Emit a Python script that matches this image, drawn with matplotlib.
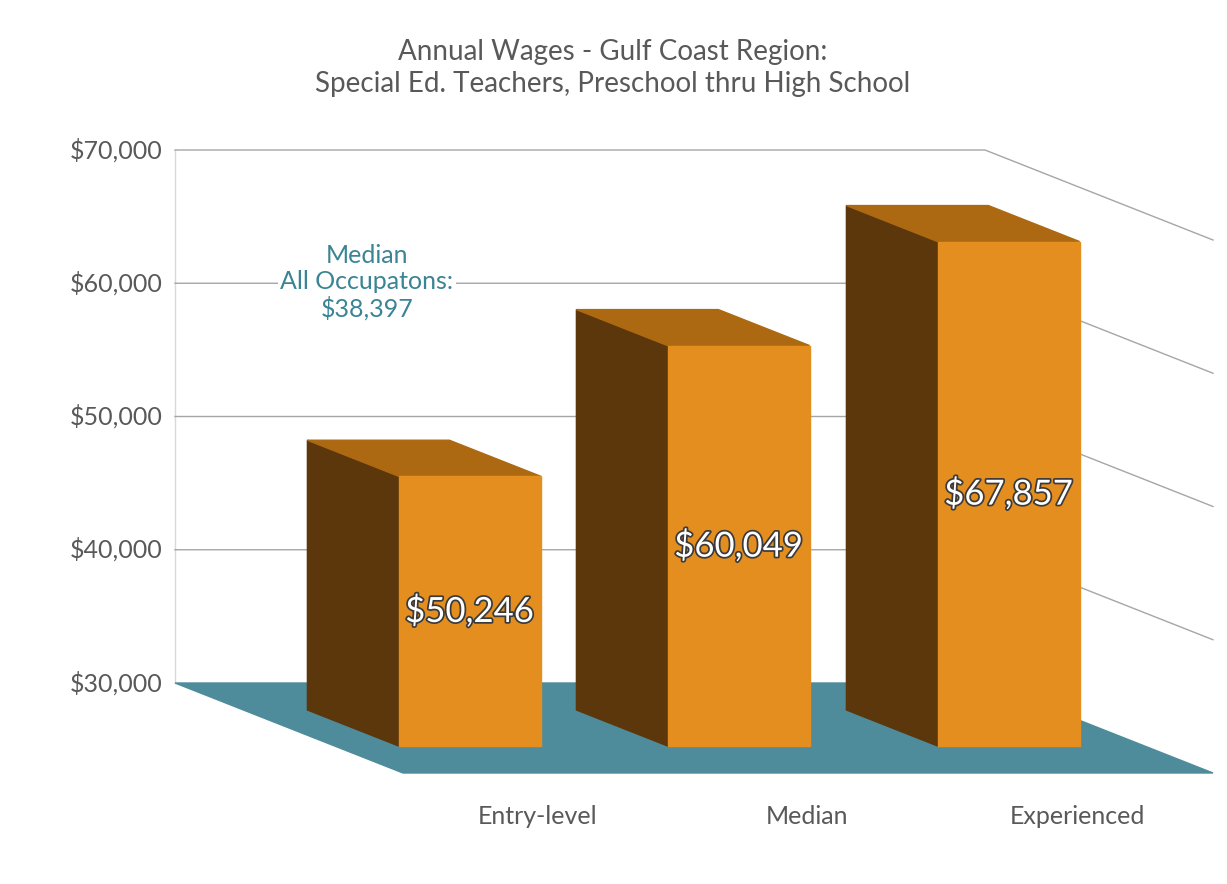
import matplotlib.pyplot as plt
import matplotlib.patheffects as pe
from matplotlib.patches import Polygon

categories = ['Entry-level', 'Median', 'Experienced']
wages = [50246, 60049, 67857]
value_labels = ['$50,246', '$60,049', '$67,857']
ticks = [30000, 40000, 50000, 60000, 70000]
tick_labels = ['$30,000', '$40,000', '$50,000', '$60,000', '$70,000']
title = 'Annual Wages - Gulf Coast Region:\nSpecial Ed. Teachers, Preschool thru High School'
note = 'Median\nAll Occupatons:\n$38,397'

# pseudo-3d projection (canvas pixels)
X0, X1, Y0 = 175, 985, 683
PX = 533 / 40000
DX, DY = 228, 90
BAR_X = [239, 508, 778]
BAR_W = 142
D_BACK, D_FRONT = 0.3, 0.7


def proj(x, v, d):
    return (x + d * DX, Y0 - (v - ticks[0]) * PX + d * DY)


fig = plt.figure(figsize=(12.27, 8.84), dpi=100)
ax = fig.add_axes([0, 0, 1, 1])
ax.set_xlim(0, 1227)
ax.set_ylim(884, 0)
ax.axis('off')
plt.rcParams['font.family'] = 'Lato'
grey = '#595959'
grid = '#a6a6a6'

# floor
ax.add_patch(Polygon([proj(X0, ticks[0], 0), proj(X1, ticks[0], 0),
                      proj(X1, ticks[0], 1), proj(X0, ticks[0], 1)],
                     closed=True, color='#4e8c9c', zorder=1))
# grid
ax.plot([X0, X0], [proj(0, ticks[0], 0)[1], proj(0, ticks[-1], 0)[1]], color='#d9d9d9', lw=1, zorder=0)
for t, lab in zip(ticks, tick_labels):
    a, b, c = proj(X0, t, 0), proj(X1, t, 0), proj(X1, t, 1)
    if t != ticks[0]:
        ax.plot([a[0], b[0], c[0]], [a[1], b[1], c[1]], color=grid, lw=1, zorder=0)
    ax.text(a[0] - 12, a[1], lab, ha='right', va='center', fontsize=18, color=grey)

# bars
for x, v, lab, cat in zip(BAR_X, wages, value_labels, categories):
    bl_b, tl_b = proj(x, ticks[0], D_BACK), proj(x, v, D_BACK)
    tr_b = proj(x + BAR_W, v, D_BACK)
    bl_f, tl_f = proj(x, ticks[0], D_FRONT), proj(x, v, D_FRONT)
    tr_f, br_f = proj(x + BAR_W, v, D_FRONT), proj(x + BAR_W, ticks[0], D_FRONT)
    ax.add_patch(Polygon([bl_b, tl_b, tl_f, bl_f], closed=True, color='#5c370c', zorder=2))
    ax.add_patch(Polygon([tl_b, tr_b, tr_f, tl_f], closed=True, color='#ad6912', zorder=2))
    ax.add_patch(Polygon([bl_f, tl_f, tr_f, br_f], closed=True, color='#e38e1e', zorder=3))
    ax.text((tl_f[0] + tr_f[0]) / 2, (tl_f[1] + bl_f[1]) / 2, lab, ha='center', va='center',
            fontsize=25, color='white', zorder=4,
            path_effects=[pe.withStroke(linewidth=2.5, foreground='#3a3a3a')])
    lx, _ = proj(x + BAR_W / 2, ticks[0], 1)
    ax.text(lx, 817, cat, ha='center', va='center', fontsize=18, color=grey)

ax.text(367, 282, note, ha='center', va='center', fontsize=18, color='#3a8494',
        linespacing=1.15, zorder=1, bbox=dict(facecolor='white', edgecolor='none', pad=2))
ax.text(613, 68, title, ha='center', va='center', fontsize=20, color=grey, linespacing=1.3)

fig.savefig('out.png', dpi=100)
